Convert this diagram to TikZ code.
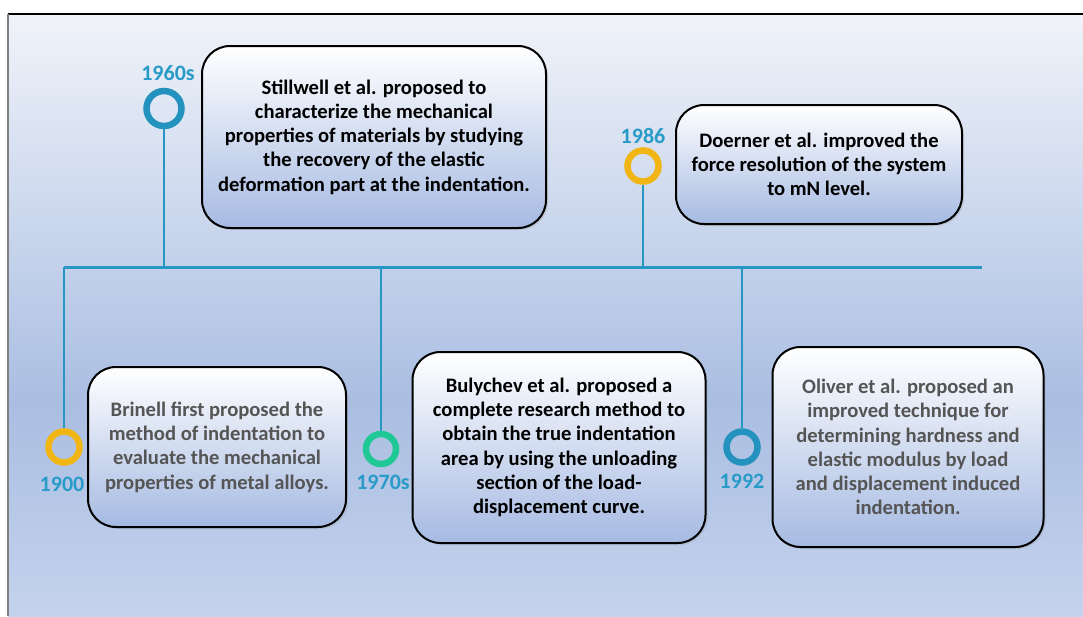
\documentclass[tikz,border=0pt]{standalone}
\usepackage{fontspec}
\setmainfont{Carlito}
\usetikzlibrary{shadows}
\definecolor{lineblue}{RGB}{40,150,195}
\definecolor{yearblue}{RGB}{40,155,200}
\definecolor{ringblue}{RGB}{36,146,190}
\definecolor{ringyellow}{RGB}{242,182,20}
\definecolor{ringgreen}{RGB}{32,200,150}
\definecolor{paneltop}{RGB}{240,243,249}
\definecolor{panelmid}{RGB}{170,190,226}
\definecolor{panelbot}{RGB}{196,210,236}
\definecolor{cardblue}{RGB}{166,186,226}
\definecolor{cardgray}{RGB}{85,85,85}
\tikzstyle{ring}=[circle,line width=6.5pt,inner sep=0pt]
\tikzstyle{year}=[font=\bfseries\fontsize{22}{24}\selectfont,text=yearblue]
\tikzstyle{card}=[rectangle,rounded corners=28pt,draw=black,line width=2pt,
  top color=white,bottom color=cardblue,align=center,
  font=\bfseries\fontsize{20.6}{24.3}\selectfont,
  drop shadow={opacity=0.2,shadow xshift=2pt,shadow yshift=-2pt}]
\tikzstyle{stem}=[draw=lineblue,line width=2.5pt]

\begin{document}
\begin{tikzpicture}[x=1pt,y=-1pt]
    \useasboundingbox (0,0) rectangle (1083,616);
    % background panel
    \shade[top color=paneltop,bottom color=panelmid] (8,14) rectangle (1083,401);
    \shade[top color=panelmid,bottom color=panelbot] (8,400) rectangle (1083,616);
    \draw[black,line width=1.5pt] (8,14) -- (1083,14);
    \draw[gray,line width=2pt] (8,14) -- (8,616);

    % timeline
    \coordinate (tl) at (64,267);
    \coordinate (tr) at (982,267);
    \draw[stem,line width=3pt] (tl) -- (tr);

    \foreach \pos/\name/\col/\sz in {{(164,108.5)/r1960/ringblue/35pt},
    {(643,166)/r1986/ringyellow/31pt},{(64,447)/r1900/ringyellow/31pt},
    {(381,449)/r1970/ringgreen/30pt},{(742,447)/r1992/ringblue/31pt}}
        \node[ring,draw=\col,minimum size=\sz] (\name) at \pos {};

    \foreach \pos/\name/\val in {{(168,73)/y1960/1960s}, {(643,136)/y1986/1986},
    {(62,484)/y1900/1900},{(383,482)/y1970/1970s},{(742,481)/y1992/1992}}
        \node[year] (\name) at \pos {\val};

    \foreach \source in {r1960,r1986,r1900,r1970,r1992}
        \draw[stem] (\source) -- (\source |- tl);

    \node[card,minimum width=344pt,minimum height=182pt] (bStill) at (374,137)
      {Stillwell et al. proposed to\\characterize the mechanical\\properties of materials by studying\\the recovery of the elastic\\deformation part at the indentation.};
    \node[card,minimum width=286pt,minimum height=119pt] (bDoer) at (819,164.5)
      {Doerner et al. improved the\\force resolution of the system\\to mN level.};
    \node[card,text=cardgray,minimum width=258pt,minimum height=160pt] (bBrin) at (217,447)
      {Brinell first proposed the\\method of indentation to\\evaluate the mechanical\\properties of metal alloys.};
    \node[card,minimum width=293pt,minimum height=191pt] (bBuly) at (559,447.5)
      {Bulychev et al. proposed a\\complete research method to\\obtain the true indentation\\area by using the unloading\\section of the load-\\displacement curve.};
    \node[card,text=cardgray,minimum width=271pt,minimum height=200pt] (bOliv) at (908,447)
      {Oliver et al. proposed an\\improved technique for\\determining hardness and\\elastic modulus by load\\and displacement induced\\indentation.};
\end{tikzpicture}
\end{document}
